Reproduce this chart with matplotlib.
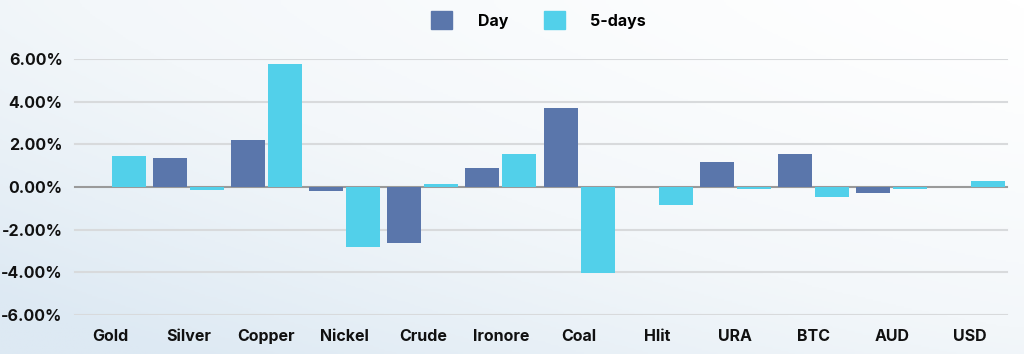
import numpy as np
import matplotlib
matplotlib.use("Agg")
import matplotlib.pyplot as plt
from matplotlib.patches import Patch
from matplotlib.colors import LinearSegmentedColormap

categories = ["Gold", "Silver", "Copper", "Nickel", "Crude", "Ironore", "Coal", "Hlit", "URA", "BTC", "AUD", "USD"]
day = [0.0, 1.36, 2.23, -0.19, -2.64, 0.88, 3.73, 0.0, 1.16, 1.55, -0.27, 0.02]
five_days = [1.47, -0.14, 5.77, -2.83, 0.13, 1.56, -4.03, -0.86, -0.09, -0.48, -0.09, 0.30]
yticks = [-6, -4, -2, 0, 2, 4, 6]

c_day = "#5a76ab"
c_5d = "#52d0ea"
font = "Inter"

fig = plt.figure(figsize=(10.24, 3.54), dpi=100)

# background gradient (bluish bottom-left to white top-right)
bg = fig.add_axes([0, 0, 1, 1], zorder=-10)
yy, xx = np.mgrid[0:1:200j, 0:1:400j]
t = np.clip(0.55 * (1 - xx) ** 1.2 + 0.55 * yy ** 1.3, 0, 1)
cmap = LinearSegmentedColormap.from_list("bg", ["#ffffff", "#f3f7fa", "#dde9f3"])
bg.imshow(t, cmap=cmap, aspect="auto", origin="upper", extent=[0, 1, 0, 1])
bg.axis("off")

L, R = 71 / 1024, 1009 / 1024
ax = fig.add_axes([L, 0.110, R - L, 0.723])
ax.patch.set_alpha(0)
x = np.arange(len(categories))
w = 0.435
off = w / 2 + 0.02
ax.bar(x - off, day, w, color=c_day, zorder=3)
ax.bar(x + off, five_days, w, color=c_5d, zorder=3)

ax.set_xlim(-0.5, len(categories) - 0.5)
ax.set_ylim(-6, 6)
ax.set_yticks(yticks)
ax.set_yticklabels([f"{v:.2f}%" for v in yticks], fontsize=11.5, fontweight="bold", family=font, color="#111111")
ax.set_xticks(x)
ax.set_xticklabels(categories, fontsize=11.5, fontweight="bold", family=font, color="#111111")
ax.tick_params(axis="y", length=0, pad=6)
ax.tick_params(axis="x", length=0, pad=10)
gx0 = (75 - 71) / (1009 - 71)
gx1 = (1007 - 71) / (1009 - 71)
for v in yticks:
    if v != 0:
        ax.axhline(v, xmin=gx0, xmax=gx1, color="#d8dadc", linewidth=1.5, zorder=0)
ax.axhline(0, xmin=gx0, xmax=gx1, color="#9a9a9a", linewidth=1.5, zorder=2)
for s in ax.spines.values():
    s.set_visible(False)

handles = [Patch(color=c_day, label="Day"), Patch(color=c_5d, label="5-days")]
fig.legend(handles=handles, loc="center", bbox_to_anchor=(0.526, 0.943), ncol=2, frameon=False,
           prop={"family": font, "weight": "bold", "size": 11.5}, handlelength=1.3, handleheight=1.3,
           columnspacing=2.25, handletextpad=1.6)

fig.savefig("out.png", dpi=100)
